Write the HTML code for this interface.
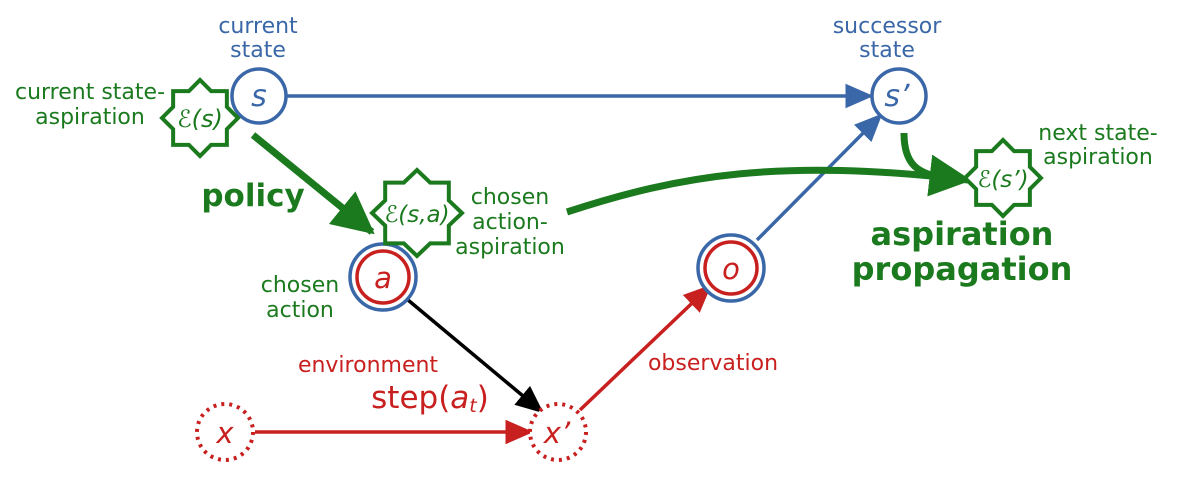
<!DOCTYPE html>
<html><head><meta charset="utf-8"><style>
html,body{margin:0;padding:0;background:#fff;}
svg{display:block;font-family:"DejaVu Sans","Liberation Sans",sans-serif;}
.b{fill:#3a67a8}.g{fill:#1b7a1e}.r{fill:#c8201f}
</style></head><body>
<svg width="1179" height="483" viewBox="0 0 1179 483" xmlns="http://www.w3.org/2000/svg">
<defs>
<polygon id="star" points="1,0 .707,.293 .707,.707 .293,.707 0,1 -.293,.707 -.707,.707 -.707,.293 -1,0 -.707,-.293 -.707,-.707 -.293,-.707 0,-1 .293,-.707 .707,-.707 .707,-.293" fill="#fff" stroke="#1b7a1e" stroke-width="4" stroke-linejoin="miter" vector-effect="non-scaling-stroke"/>
<marker id="ab" markerWidth="8" markerHeight="8" refX="7" refY="4" orient="auto" markerUnits="strokeWidth"><path d="M0,0.5 L8,4 L0,7.5 Z" fill="#3a67a8"/></marker>
<marker id="ar" markerWidth="8" markerHeight="8" refX="7" refY="4" orient="auto" markerUnits="strokeWidth"><path d="M0,0.5 L8,4 L0,7.5 Z" fill="#c8201f"/></marker>
<marker id="ak" markerWidth="8" markerHeight="8" refX="7" refY="4" orient="auto" markerUnits="strokeWidth"><path d="M0,0.5 L8,4 L0,7.5 Z" fill="#000"/></marker>
<marker id="ag" markerWidth="6" markerHeight="6" refX="5.5" refY="3" orient="auto" markerUnits="strokeWidth"><path d="M0,0 L6,3 L0,6 Z" fill="#1b7a1e"/></marker>
</defs>

<line x1="287" y1="96" x2="870" y2="96" stroke="#3a67a8" stroke-width="3.5" marker-end="url(#ab)"/>
<line x1="757" y1="240" x2="880" y2="116" stroke="#3a67a8" stroke-width="3.5" marker-end="url(#ab)"/>
<line x1="255" y1="432" x2="530" y2="432" stroke="#c8201f" stroke-width="3.5" marker-end="url(#ar)"/>
<line x1="580" y1="410" x2="709" y2="287" stroke="#c8201f" stroke-width="3.5" marker-end="url(#ar)"/>
<line x1="408" y1="300" x2="541" y2="411" stroke="#000" stroke-width="3.5" marker-end="url(#ak)"/>
<line x1="253" y1="135" x2="372" y2="232" stroke="#1b7a1e" stroke-width="7" marker-end="url(#ag)"/>
<path d="M567,212 C680,175 780,158 968,180" fill="none" stroke="#1b7a1e" stroke-width="7" marker-end="url(#ag)"/>
<path d="M904,133 C904,165 918,174 945,178" fill="none" stroke="#1b7a1e" stroke-width="7"/>

<circle cx="259" cy="96" r="27" fill="#fff" stroke="#3a67a8" stroke-width="3.5"/>
<text x="259" y="106" font-size="30" font-style="italic" class="b" text-anchor="middle">s</text>
<circle cx="899" cy="96" r="27" fill="#fff" stroke="#3a67a8" stroke-width="3.5"/>
<text x="897" y="106" font-size="30" font-style="italic" class="b" text-anchor="middle">s’</text>

<circle cx="383" cy="277" r="33" fill="#fff" stroke="#3a67a8" stroke-width="3.5"/>
<circle cx="383" cy="277" r="26" fill="#fff" stroke="#c8201f" stroke-width="3.5"/>
<text x="383" y="288" font-size="29" font-style="italic" class="r" text-anchor="middle">a</text>
<circle cx="731" cy="268" r="33" fill="#fff" stroke="#3a67a8" stroke-width="3.5"/>
<circle cx="731" cy="268" r="26" fill="#fff" stroke="#c8201f" stroke-width="3.5"/>
<text x="731" y="279" font-size="29" font-style="italic" class="r" text-anchor="middle">o</text>

<circle cx="225" cy="432" r="28" fill="#fff" stroke="#c8201f" stroke-width="4" stroke-dasharray="3 5"/>
<text x="225" y="443" font-size="29" font-style="italic" class="r" text-anchor="middle">x</text>
<circle cx="558" cy="432" r="28" fill="#fff" stroke="#c8201f" stroke-width="4" stroke-dasharray="3 5"/>
<text x="557" y="443" font-size="29" font-style="italic" class="r" text-anchor="middle">x’</text>

<use href="#star" transform="translate(200,118) scale(38)"/>
<text x="200" y="127" font-size="24" font-style="italic" class="g" text-anchor="middle">ℰ(s)</text>
<use href="#star" transform="translate(417,213) scale(45,43)"/>
<text x="417" y="222" font-size="23" font-style="italic" class="g" text-anchor="middle">ℰ(s,a)</text>
<use href="#star" transform="translate(1003,178) scale(38)"/>
<text x="1003" y="187" font-size="23" font-style="italic" class="g" text-anchor="middle">ℰ(s’)</text>

<g font-size="22" text-anchor="middle">
<text x="258" y="33" class="b">current</text>
<text x="258" y="57" class="b">state</text>
<text x="887" y="33" class="b">successor</text>
<text x="887" y="57" class="b">state</text>
<text x="90" y="99" class="g">current state-</text>
<text x="90" y="124" class="g">aspiration</text>
<text x="510" y="204" class="g">chosen</text>
<text x="510" y="229" class="g">action-</text>
<text x="510" y="254" class="g">aspiration</text>
<text x="300" y="292" class="g">chosen</text>
<text x="300" y="317" class="g">action</text>
<text x="1098" y="140" class="g">next state-</text>
<text x="1098" y="164" class="g">aspiration</text>
<text x="368" y="372" class="r">environment</text>
<text x="713" y="370" class="r">observation</text>
</g>
<text x="253" y="206" font-size="31" font-weight="bold" class="g" text-anchor="middle">policy</text>
<text x="962" y="245" font-size="32" font-weight="bold" class="g" text-anchor="middle">aspiration</text>
<text x="962" y="280" font-size="32" font-weight="bold" class="g" text-anchor="middle">propagation</text>
<text x="430" y="408" font-size="31" class="r" text-anchor="middle">step(<tspan font-style="italic">a</tspan><tspan font-size="19" font-style="italic" dy="4">t</tspan><tspan dy="-4">)</tspan></text>
</svg>
</body></html>
